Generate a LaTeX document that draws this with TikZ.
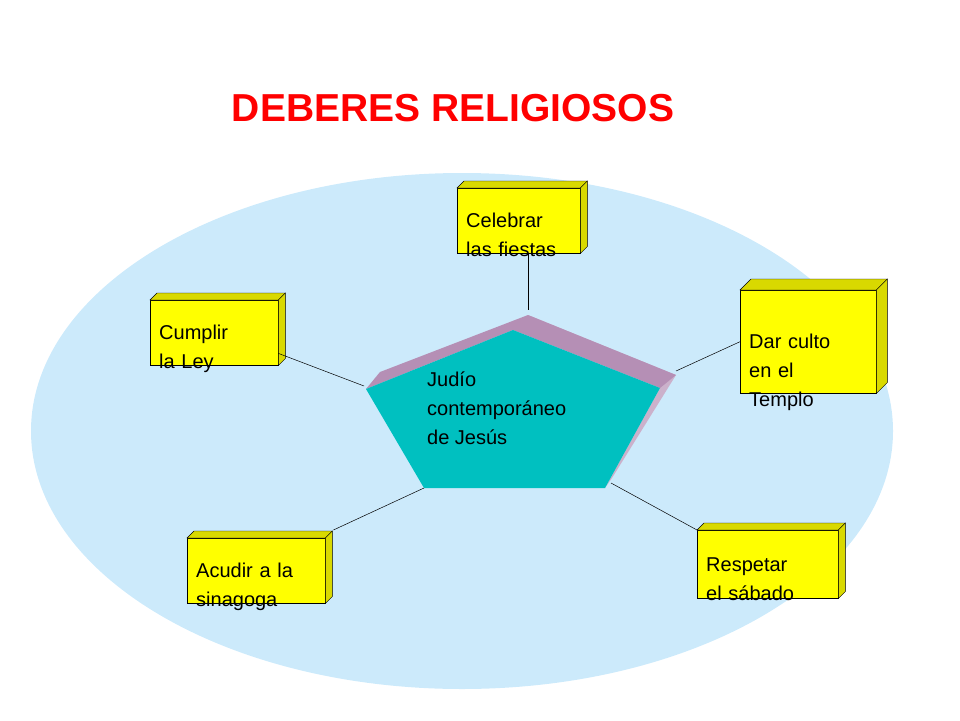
\documentclass[tikz,border=0pt]{standalone}
\usepackage{fontspec}
\setmainfont{Liberation Sans}
\usetikzlibrary{positioning}
\definecolor{skyfill}{HTML}{CCEAFB}
\definecolor{tealfill}{HTML}{00C0C0}
\definecolor{mauvefill}{HTML}{B58FB5}
\definecolor{boxyellow}{HTML}{FFFF00}
\tikzset{
  duty/.style={draw=black, fill=boxyellow, anchor=north west, align=left,
    inner xsep=9pt, inner ysep=6pt, font=\fontsize{20}{29}\selectfont, text depth=0pt},
  face/.style={draw=black, fill=boxyellow!85!black, line width=0.4pt},
  link/.style={draw=black, line width=0.5pt}
}
\begin{document}
\begin{tikzpicture}[x=1pt, y=-1pt]
    \useasboundingbox (0,0) rectangle (960,720);
    \fill[skyfill] (462,431) ellipse [x radius=431, y radius=258];

    \node[text=red, font=\fontsize{39}{44}\selectfont\bfseries] (title) at (453,108) {DEBERES RELIGIOSOS};

    % pentagon
    \fill[mauvefill!70!white] (528,315) -- (676,375) -- (612,478) -- (605,488) -- (660,388) -- cycle;
    \fill[mauvefill] (366,389) -- (380,372) -- (528,315) -- (676,375) -- (660,388) -- (513,330) -- cycle;
    \fill[tealfill] (513,330) -- (660,388) -- (605,488) -- (424,488) -- (366,389) -- cycle;
    \node[anchor=north west, align=left, inner sep=0pt, font=\fontsize{20}{29}\selectfont] (judio) at (427,372)
        {Judío\\contemporáneo\\de Jesús};
    \coordinate (ptop) at (528,310);
    \coordinate (pleft) at (364,386);
    \coordinate (pright) at (676,371);
    \coordinate (pbl) at (424,488);
    \coordinate (pbr) at (611,483);

    % boxes
    \node[duty, text width=105pt, minimum height=65pt] (fiestas) at (457,188) {Celebrar\\las fiestas};
    \node[duty, text width=110pt, minimum height=65pt] (ley) at (150,300) {Cumplir\\la Ley};
    \node[duty, text width=118pt, minimum height=103pt] (templo) at (740,290) {Dar culto\\en el\\Templo};
    \node[duty, text width=120pt, minimum height=65pt] (sinagoga) at (187,538) {Acudir a la\\sinagoga};
    \node[duty, text width=123pt, minimum height=68pt] (sabado) at (697,530) {Respetar\\el sábado};

    \foreach \b/\d in {fiestas/7, ley/7, templo/11, sinagoga/7, sabado/7} {
        \draw[face] (\b.north west) -- ++(\d,-\d) -- ([xshift=\d pt, yshift=\d pt]\b.north east) -- (\b.north east) -- cycle;
        \draw[face] (\b.north east) -- ++(\d,-\d) -- ([xshift=\d pt, yshift=\d pt]\b.south east) -- (\b.south east) -- cycle;
    }

    % connectors
    \draw[link] (fiestas.south -| ptop) -- (ptop);
    \draw[link] (ley.south east) ++(0,-12) coordinate (leyend) (leyend) -- (pleft);
    \draw[link] (templo.west) -- (pright);
    \draw[link] (sinagoga.north east) ++(8,-8) coordinate (sinend) (sinend) -- (pbl);
    \draw[link] (sabado.north west) -- (pbr);
\end{tikzpicture}
\end{document}
